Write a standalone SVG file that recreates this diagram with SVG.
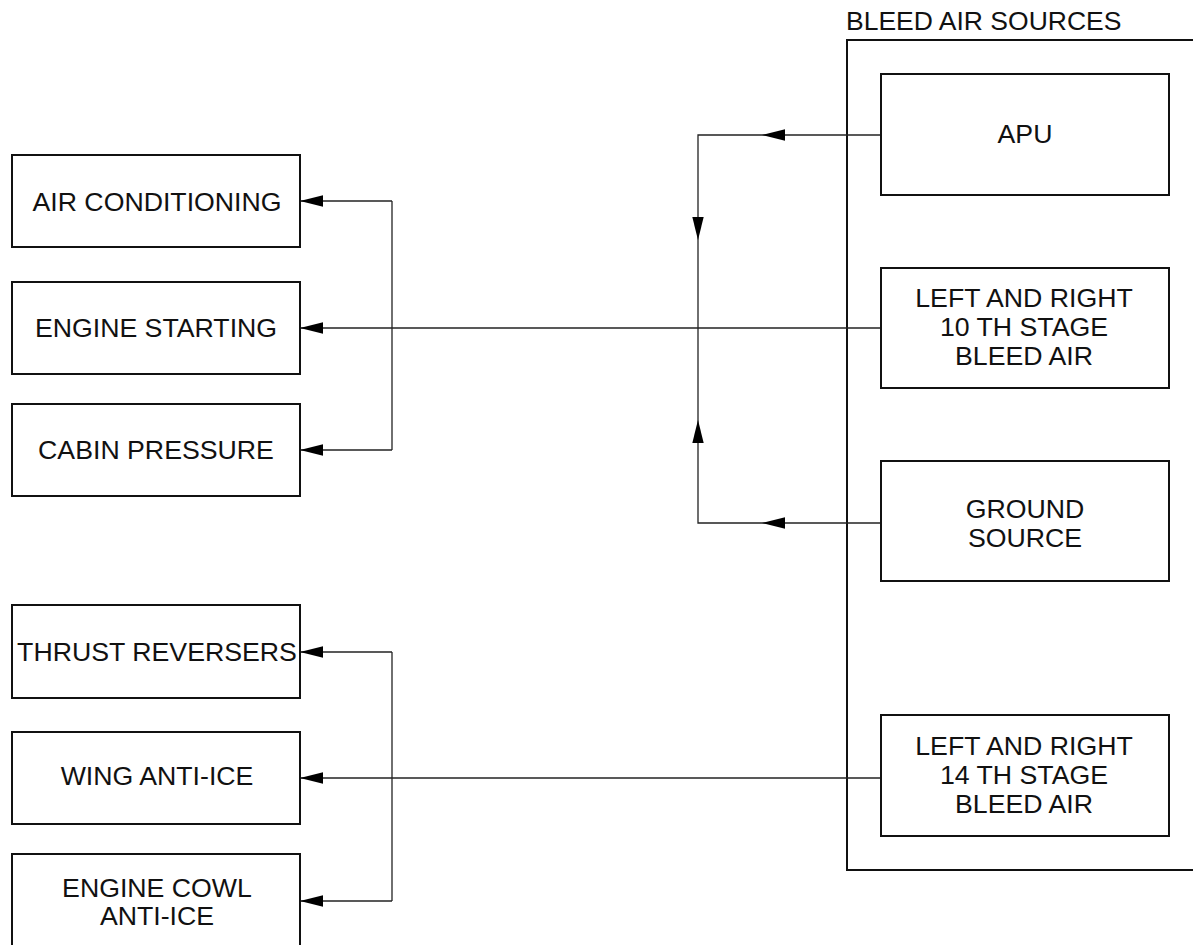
<svg xmlns="http://www.w3.org/2000/svg" width="1193" height="945" viewBox="0 0 1193 945">
<style>
.box{fill:#fff;stroke:#111;stroke-width:2}
.frame{fill:none;stroke:#111;stroke-width:2}
.lbl{font-family:"Liberation Sans",Arial,sans-serif;font-size:26.7px;fill:#111;text-anchor:middle}
.ttl{font-family:"Liberation Sans",Arial,sans-serif;font-size:26.5px;fill:#111}
.con{fill:none;stroke:#222;stroke-width:1.3}
</style>
<defs>
<marker id="arr" markerUnits="userSpaceOnUse" markerWidth="24" markerHeight="12" refX="23" refY="6" orient="auto">
<path d="M0,0.3 L23,6 L0,11.7 z" fill="#000"/>
</marker>
</defs>
<rect width="1193" height="945" fill="#fff"/>
<g id="bleed-air-sources">
<text class="ttl" x="846" y="30">BLEED AIR SOURCES</text>
<path class="frame" d="M1194,40 H847 V870 H1194"/>
</g>
<g id="connectors">
<path class="con" d="M881,135 H762" marker-end="url(#arr)"/>
<path class="con" d="M762,135 H698 V240" marker-end="url(#arr)"/>
<path class="con" d="M698,240 V420"/>
<path class="con" d="M881,523 H762" marker-end="url(#arr)"/>
<path class="con" d="M762,523 H698 V420" marker-end="url(#arr)"/>
<path class="con" d="M881,328 H300" marker-end="url(#arr)"/>
<path class="con" d="M392,201 H300" marker-end="url(#arr)"/>
<path class="con" d="M392,201 V450"/>
<path class="con" d="M392,450 H300" marker-end="url(#arr)"/>
<path class="con" d="M881,778 H300" marker-end="url(#arr)"/>
<path class="con" d="M392,652 H300" marker-end="url(#arr)"/>
<path class="con" d="M392,652 V901"/>
<path class="con" d="M392,901 H300" marker-end="url(#arr)"/>
</g>
<g id="apu">
<rect class="box" x="881" y="74" width="288" height="121"/>
<text class="lbl" x="1025" y="143">APU</text>
</g>
<g id="stage10">
<rect class="box" x="881" y="268" width="288" height="120"/>
<text class="lbl" x="1024" y="307">LEFT AND RIGHT</text>
<text class="lbl" x="1024" y="336">10 TH STAGE</text>
<text class="lbl" x="1024" y="365">BLEED AIR</text>
</g>
<g id="ground-source">
<rect class="box" x="881" y="461" width="288" height="120"/>
<text class="lbl" x="1025" y="518">GROUND</text>
<text class="lbl" x="1025" y="547">SOURCE</text>
</g>
<g id="stage14">
<rect class="box" x="881" y="715" width="288" height="121"/>
<text class="lbl" x="1024" y="755">LEFT AND RIGHT</text>
<text class="lbl" x="1024" y="784">14 TH STAGE</text>
<text class="lbl" x="1024" y="813">BLEED AIR</text>
</g>
<g id="air-conditioning">
<rect class="box" x="12" y="155" width="288" height="92"/>
<text class="lbl" x="157" y="211">AIR CONDITIONING</text>
</g>
<g id="engine-starting">
<rect class="box" x="12" y="282" width="288" height="92"/>
<text class="lbl" x="156" y="337">ENGINE STARTING</text>
</g>
<g id="cabin-pressure">
<rect class="box" x="12" y="404" width="288" height="92"/>
<text class="lbl" x="156" y="459">CABIN PRESSURE</text>
</g>
<g id="thrust-reversers">
<rect class="box" x="12" y="605" width="288" height="93"/>
<text class="lbl" x="157" y="661">THRUST REVERSERS</text>
</g>
<g id="wing-anti-ice">
<rect class="box" x="12" y="732" width="288" height="92"/>
<text class="lbl" x="157" y="785">WING ANTI-ICE</text>
</g>
<g id="engine-cowl-anti-ice">
<rect class="box" x="12" y="854" width="288" height="100"/>
<text class="lbl" x="157" y="897">ENGINE COWL</text>
<text class="lbl" x="157" y="925">ANTI-ICE</text>
</g>
</svg>
